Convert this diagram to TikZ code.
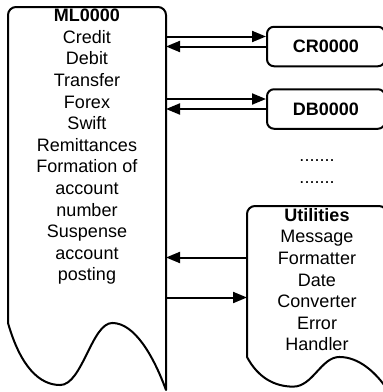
\documentclass[tikz,border=0pt]{standalone}
\usepackage{fontspec}
\setmainfont{Liberation Sans}
\usetikzlibrary{arrows.meta,positioning,calc}

\tikzset{
  region/.style={inner sep=0pt, outer sep=0pt},
  txt/.style={align=center, inner sep=0pt, font=\fontsize{18}{21.6}\selectfont},
  modbox/.style={draw, line width=2pt, rounded corners=7pt, minimum width=118pt, minimum height=39.5pt, inner sep=0pt, font=\fontsize{18}{21.6}\selectfont\bfseries},
  docline/.style={line width=2pt, line join=round},
  arr/.style={-{Triangle[length=14pt,width=11pt]}, line width=2pt},
}

% document shape drawn round an empty region node
\newcommand{\docoutline}[1]{%
  \draw[docline] let \p1=(#1.north west), \p2=(#1.south east), \n1={\x2-\x1}, \n2={\y1-\y2} in
    (\x1,{\y2+0.175*\n2}) [rounded corners=8pt] -- (\x1,\y1) -- (\x2,\y1) [sharp corners] -- (\x2,\y2)
    .. controls ({\x1+0.92*\n1},{\y2+0.09*\n2}) and ({\x1+0.8*\n1},{\y2+0.175*\n2}) .. ({\x1+0.66*\n1},{\y2+0.175*\n2})
    .. controls ({\x1+0.53*\n1},{\y2+0.175*\n2}) and ({\x1+0.47*\n1},{\y2+0.013*\n2}) .. ({\x1+0.33*\n1},{\y2+0.013*\n2})
    .. controls ({\x1+0.2*\n1},{\y2+0.013*\n2}) and ({\x1+0.08*\n1},{\y2+0.06*\n2}) .. cycle;%
}

\begin{document}
\begin{tikzpicture}[x=1pt, y=-1pt, >=Latex]
  \useasboundingbox (0,0) rectangle (383,392);

  % main module
  \node[region, minimum width=158pt, minimum height=383pt, anchor=north west] (ml) at (8,7) {};
  \docoutline{ml}
  \node[txt, below=2pt of ml.north] (mltext) {\textbf{ML0000}\\Credit\\Debit\\Transfer\\Forex\\Swift\\Remittances\\Formation of\\account\\number\\Suspense\\account\\posting};

  % called modules
  \node[modbox, anchor=west] (cr) at (266,46.5) {CR0000};
  \node[modbox, below=21pt of cr] (db) {DB0000};
  \node[txt, anchor=south] (dots) at (317,183.5) {.......\\.......};

  % utilities
  \node[region, minimum width=140pt, minimum height=183pt, anchor=north west] (util) at (247,206) {};
  \docoutline{util}
  \node[txt, below=2pt of util.north] (utiltext) {\textbf{Utilities}\\Message\\Formatter\\Date\\Converter\\Error\\Handler};

  \coordinate (crout) at ([yshift=10pt]cr.west);
  \coordinate (dbout) at ([yshift=10pt]db.west);
  \coordinate (utilout) at ([yshift=40pt]util.west);

  \draw[arr] (crout -| ml.east) -- (crout);
  \draw[arr] (cr.west) -- (cr.west -| ml.east);
  \draw[arr] (dbout -| ml.east) -- (dbout);
  \draw[arr] (db.west) -- (db.west -| ml.east);
  \draw[arr] (utilout) -- (utilout -| ml.east);
  \draw[arr] (util.west -| ml.east) -- (util.west);
\end{tikzpicture}
\end{document}
